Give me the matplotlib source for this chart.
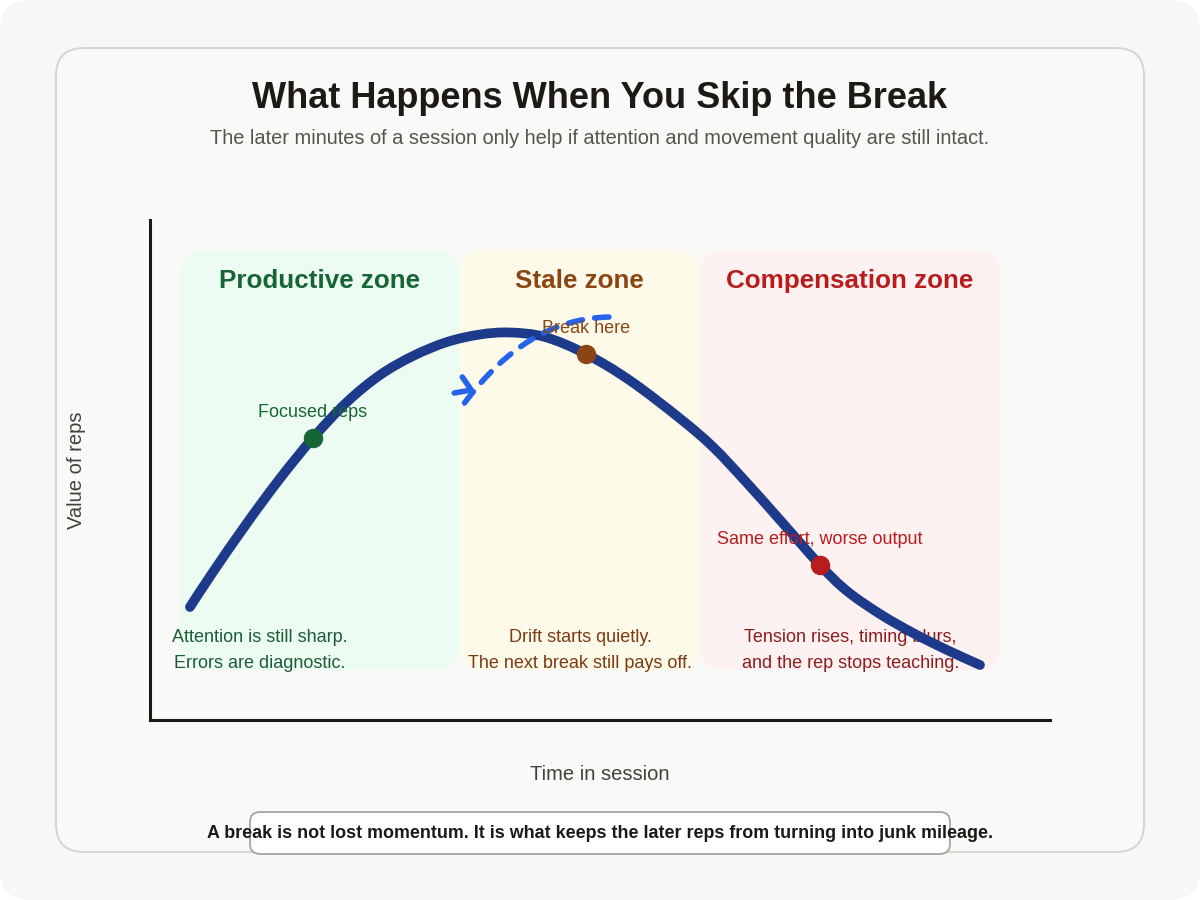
import matplotlib
matplotlib.use("Agg")
import matplotlib.pyplot as plt
from matplotlib.patches import FancyBboxPatch, FancyArrowPatch, PathPatch
from matplotlib.path import Path

plt.rcParams['font.family'] = ['Liberation Sans', 'DejaVu Sans']

# curve (time in session 0-100, value 0-100)
time = [4.44, 7.0, 10.78, 14.44, 18.11, 21.89, 25.56, 29.22, 33.0, 36.67, 40.0,
        43.89, 48.44, 53.33, 58.89, 62.56, 66.33, 70.0, 74.44, 77.44, 81.11,
        84.78, 88.56, 92.22]
value = [22.6, 29.6, 39.4, 48.3, 56.4, 63.6, 69.0, 72.8, 75.6, 77.1, 77.5,
         76.6, 73.2, 67.9, 60.3, 54.6, 47.4, 40.0, 31.0, 25.8, 21.2,
         17.4, 14.0, 11.0]

zone_names = ["Productive zone", "Stale zone", "Compensation zone"]
zone_start = [3.3, 34.4, 61.1]
zone_end = [34.4, 61.1, 94.4]
zone_bottom, zone_top = 10, 94
zone_fill = ["#EDFCF2", "#FEFAEA", "#FEF1F2"]
zone_title_col = ["#166534", "#8B4513", "#B91C1C"]
zone_note_col = ["#1D5C36", "#7C3A12", "#8B1D1D"]
zone_notes = [["Attention is still sharp.", "Errors are diagnostic."],
              ["Drift starts quietly.", "The next break still pays off."],
              ["Tension rises, timing blurs,", "and the rep stops teaching."]]
note_x = [12.2, 47.8, 77.8]

marker_t = [18.11, 48.44, 74.44]
marker_v = [56.4, 73.2, 31.0]
marker_lbl = ["Focused reps", "Break here", "Same effort, worse output"]
marker_col = ["#166534", "#8B4513", "#B91C1C"]

# "take a break" dashed arrow: start, end, and the chevron drawn on it
arrow_start = (51.3, 80.6)
arrow_end = (34.7, 62.8)
chevron_t = [33.8, 35.7, 34.7]
chevron_v = [65.4, 66.0, 68.6]


def smooth_path(xs, ys):
    # Catmull-Rom through the read points, handed to matplotlib as cubic beziers
    n = len(xs)
    verts = [(xs[0], ys[0])]
    codes = [Path.MOVETO]
    for i in range(n - 1):
        a = max(i - 1, 0)
        b = min(i + 2, n - 1)
        c1 = (xs[i] + (xs[i + 1] - xs[a]) / 6, ys[i] + (ys[i + 1] - ys[a]) / 6)
        c2 = (xs[i + 1] - (xs[b] - xs[i]) / 6, ys[i + 1] - (ys[b] - ys[i]) / 6)
        verts += [c1, c2, (xs[i + 1], ys[i + 1])]
        codes += [Path.CURVE4] * 3
    return Path(verts, codes)


fig = plt.figure(figsize=(12, 9), dpi=100, facecolor="white")

# background / card layer in pixel coords
bg = fig.add_axes([0, 0, 1, 1])
bg.set_xlim(0, 1200)
bg.set_ylim(900, 0)
bg.axis("off")
bg.add_patch(FancyBboxPatch((0, 0), 1200, 900, boxstyle="round,pad=0,rounding_size=30",
                            fc="#F7F7F5", ec="none"))
bg.add_patch(FancyBboxPatch((56, 48), 1088, 804, boxstyle="round,pad=0,rounding_size=28",
                            fc="#F9F9F8", ec="#D5D1CF", lw=1.3))
bg.text(600, 98, "What Happens When You Skip the Break", ha="center", va="center",
        fontsize=26, fontweight="bold", color="#1C1917")
bg.text(600, 139, "The later minutes of a session only help if attention and movement quality are still intact.",
        ha="center", va="center", fontsize=14.4, color="#57534E")
bg.text(77, 470, "Value of reps", ha="center", va="center", rotation=90, fontsize=14.5, color="#44403C")
bg.text(600, 775, "Time in session", ha="center", va="center", fontsize=14.5, color="#44403C")
bg.add_patch(FancyBboxPatch((250, 812), 700, 42, boxstyle="round,pad=0,rounding_size=10",
                            fc="white", ec="#A8A29E", lw=1.3))
bg.text(600, 834, "A break is not lost momentum. It is what keeps the later reps from turning into junk mileage.",
        ha="center", va="center", fontsize=12.9, fontweight="bold", color="#1C1917")

# main chart
ax = fig.add_axes([150 / 1200, 180 / 900, 900 / 1200, 500 / 900])
ax.set_xlim(0, 100)
ax.set_ylim(0, 100)
ax.patch.set_alpha(0)
for s in ["top", "right"]:
    ax.spines[s].set_visible(False)
for s in ["left", "bottom"]:
    ax.spines[s].set_linewidth(2.2)
    ax.spines[s].set_color("#1C1917")
ax.set_xticks([])
ax.set_yticks([])

for i in range(3):
    ax.add_patch(FancyBboxPatch((zone_start[i], zone_bottom), zone_end[i] - zone_start[i],
                                zone_top - zone_bottom,
                                boxstyle="round,pad=0,rounding_size=2.8", mutation_aspect=1.8,
                                fc=zone_fill[i], ec="none", zorder=1))
    ax.text((zone_start[i] + zone_end[i]) / 2, 87.8, zone_names[i], ha="center", va="center",
            fontsize=18.7, fontweight="bold", color=zone_title_col[i], zorder=2)
    ax.text(note_x[i], 16.6, zone_notes[i][0], ha="center", va="center",
            fontsize=13, color=zone_note_col[i], zorder=2)
    ax.text(note_x[i], 11.4, zone_notes[i][1], ha="center", va="center",
            fontsize=13, color=zone_note_col[i], zorder=2)

ax.add_patch(PathPatch(smooth_path(time, value), fill=False, ec="#1E3A8A", lw=7,
                       capstyle="round", joinstyle="round", zorder=3))

for t, v, lbl, c in zip(marker_t, marker_v, marker_lbl, marker_col):
    ax.plot(t, v, "o", ms=13, color=c, zorder=5)
    ax.text(t, v + 5.1, lbl, ha="center", va="center", fontsize=13, color=c, zorder=7)

arr = FancyArrowPatch(arrow_start, arrow_end, connectionstyle="angle3,angleA=0,angleB=54",
                      arrowstyle="-", color="#2563EB", lw=4,
                      linestyle=(0, (2.6, 2.2)), capstyle="round", zorder=6)
ax.add_patch(arr)
ax.plot(chevron_t, chevron_v, color="#2563EB", lw=4, solid_capstyle="round",
        solid_joinstyle="round", zorder=6)

fig.savefig("out.png", dpi=100, facecolor="white")
